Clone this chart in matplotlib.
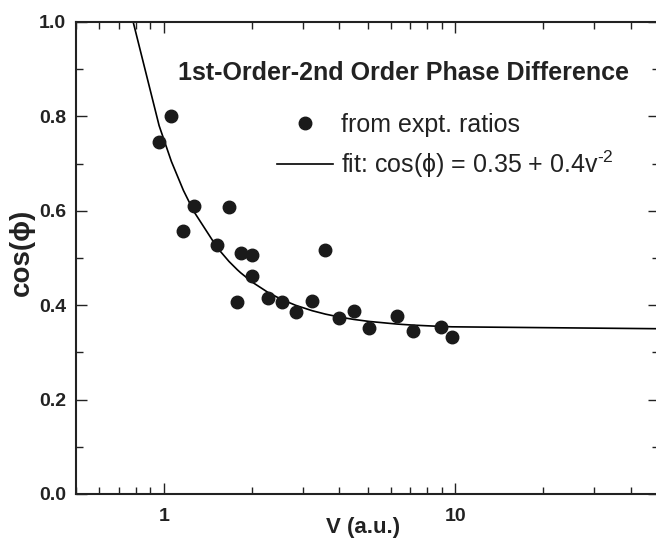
import numpy as np
import matplotlib
matplotlib.use("Agg")
import matplotlib.pyplot as plt
from matplotlib.ticker import LogLocator, FixedLocator, NullFormatter, MultipleLocator

plt.rcParams['font.family'] = ['Liberation Sans', 'DejaVu Sans']
plt.rcParams['mathtext.fontset'] = 'custom'
plt.rcParams['mathtext.rm'] = 'Liberation Sans'

v_data = [0.964, 1.062, 1.168, 1.27, 1.527, 1.674, 1.788, 1.835, 2.012, 2.012,
          2.283, 2.536, 2.832, 3.23, 3.588, 4.006, 4.485, 5.063, 6.313, 7.16, 8.96, 9.74]
cos_data = [0.746, 0.801, 0.557, 0.610, 0.527, 0.607, 0.406, 0.510, 0.507, 0.4625,
            0.416, 0.406, 0.385, 0.409, 0.517, 0.3735, 0.388, 0.3524, 0.378, 0.345, 0.3545, 0.333]

fit_a = 0.35
fit_b = 0.4
v_fit = np.array(sorted(set([0.78] + v_data + [50.0])))
cos_fit = fit_a + fit_b * v_fit ** -2

fig = plt.figure(figsize=(6.56, 5.39), dpi=100)
ax = fig.add_axes([76/656, 1-494/539, 583/656, 472/539])

ax.plot(v_fit, cos_fit, color='black', lw=1.2, label='fit: cos(\u03d5) = 0.35 + 0.4v$^{\\text{-2}}$')
ax.plot(v_data, cos_data, 'o', color='#1a1a1a', ms=9, ls='none', label='from expt. ratios')

ax.set_xscale('log')
ax.set_xlim(0.5, 50)
ax.set_ylim(0, 1.0)
ax.xaxis.set_major_locator(FixedLocator([1, 10]))
ax.xaxis.set_major_formatter(matplotlib.ticker.FixedFormatter(['1', '10']))
ax.xaxis.set_minor_locator(LogLocator(base=10, subs=np.arange(2, 10)))
ax.xaxis.set_minor_formatter(NullFormatter())
ax.yaxis.set_major_locator(MultipleLocator(0.2))
ax.yaxis.set_minor_locator(MultipleLocator(0.1))
ax.yaxis.set_major_formatter(matplotlib.ticker.FormatStrFormatter('%.1f'))

ax.tick_params(which='both', direction='in', top=True, right=True, width=1.0, color='#222222')
ax.tick_params(which='major', length=8, labelsize=14, pad=7)
ax.tick_params(axis='x', which='major', pad=10)
ax.tick_params(which='minor', length=5)
for lab in ax.get_xticklabels() + ax.get_yticklabels():
    lab.set_fontweight('bold')
    lab.set_color('#222222')
for s in ax.spines.values():
    s.set_linewidth(1.5)
    s.set_color('#222222')

ax.set_xlabel('V (a.u.)', fontsize=16, fontweight='bold', color='#222222', va='center')
ax.xaxis.set_label_coords((363-76)/583, (494-527)/472)
ax.set_ylabel('cos(\u03d5)', fontsize=20, fontweight='bold', color='#222222', va='center')
ax.yaxis.set_label_coords((22-76)/583, (494-252)/472)

ax.text((178-76)/583, (494-73)/472, '1st-Order-2nd Order Phase Difference', transform=ax.transAxes,
        fontsize=18, fontweight='bold', color='#222222', va='center')

handles, labels = ax.get_legend_handles_labels()
leg = ax.legend(handles[::-1], labels[::-1], loc='upper left',
                bbox_to_anchor=((277-76)/583, (494-113)/472),
                frameon=False, fontsize=18, handlelength=2.24, handletextpad=0.32,
                labelspacing=0.45, borderaxespad=0, borderpad=0)
for t in leg.get_texts():
    t.set_color('#222222')

fig.savefig('out.png', dpi=100)
